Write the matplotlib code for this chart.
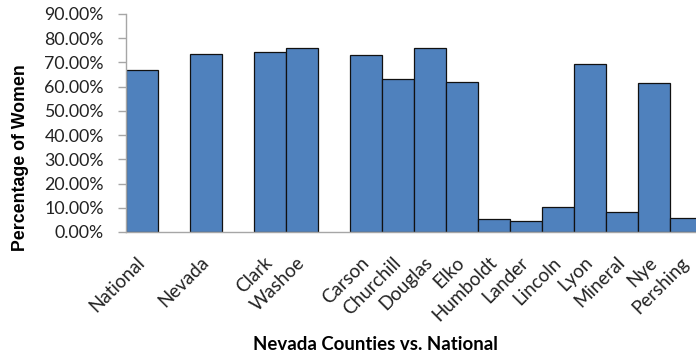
import matplotlib
matplotlib.use("Agg")
import matplotlib.pyplot as plt
from matplotlib.ticker import FuncFormatter, MultipleLocator
import numpy as np

# blank entries leave an empty slot between the groups
counties = ["National", "", "Nevada", "", "Clark", "Washoe", "",
            "Carson", "Churchill", "Douglas", "Elko", "Humboldt", "Lander",
            "Lincoln", "Lyon", "Mineral", "Nye", "Pershing"]
pct_women = [0.668, np.nan, 0.734, np.nan, 0.742, 0.759, np.nan,
             0.729, 0.632, 0.761, 0.621, 0.052, 0.045,
             0.102, 0.694, 0.081, 0.616, 0.056]

bar_color = "#4F81BD"
axis_gray = "#A6A6A6"

fig = plt.figure(figsize=(6.96, 3.58), dpi=100)
ax = fig.add_axes([126 / 696, 1 - 232 / 358, 576 / 696, 218 / 358])

x = np.arange(len(counties))
vals = np.array(pct_women, dtype=float)
has_val = ~np.isnan(vals)
ax.bar(x[has_val], vals[has_val], width=1.0, color=bar_color,
       edgecolor="#111111", linewidth=0.9)

ax.set_xlim(-0.5, len(counties) - 0.5)
ax.set_ylim(0, 0.9)
ax.yaxis.set_major_locator(MultipleLocator(0.1))
ax.yaxis.set_major_formatter(FuncFormatter(lambda v, _: f"{v * 100:.2f}%"))

ax.set_xticks(x)
ax.set_xticklabels(counties, rotation=45, ha="right", va="center",
                   rotation_mode="anchor", fontfamily="Lato", fontsize=13.5)
for lbl in ax.get_yticklabels():
    lbl.set_fontfamily("Lato")
    lbl.set_fontsize(12.8)
ax.tick_params(axis="x", length=0, pad=20, colors="#222222")
ax.tick_params(axis="y", length=6, width=1, color=axis_gray, pad=10,
               labelcolor="#222222")

for side in ("top", "right"):
    ax.spines[side].set_visible(False)
for side in ("left", "bottom"):
    ax.spines[side].set_color(axis_gray)
    ax.spines[side].set_linewidth(1)

fig.text(21 / 696, 1 - 158 / 358, "Percentage of Women", rotation=90,
         ha="center", va="center", fontfamily="Liberation Sans",
         fontweight="bold", fontsize=12.8)
fig.text(375 / 696, 1 - 344 / 358, "Nevada Counties vs. National",
         ha="center", va="center", fontfamily="Lato", fontweight="bold",
         fontsize=13.4)

fig.savefig("out.png", dpi=100)
